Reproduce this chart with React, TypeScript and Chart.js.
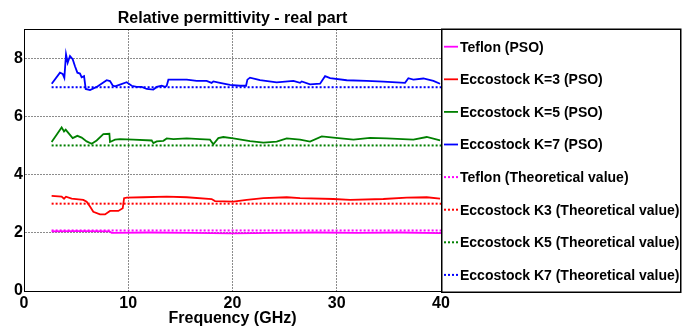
import React, { useEffect, useRef } from "react";
import { Chart, registerables } from "chart.js";

Chart.register(...registerables);

// ---- data ----
const xTicks = [0, 10, 20, 30, 40];
const yTicks = [0, 2, 4, 6, 8];

const teflonFreq = [2.65, 5, 8.2, 8.4, 12, 16, 20, 24, 28, 32, 36, 40];
const teflonVals = [2.05, 2.06, 2.05, 2.0, 2.01, 2.0, 1.98, 2.0, 2.01, 2.0, 2.01, 1.99];

const k3Freq = [2.65, 3.61, 3.84, 4.03, 4.57, 5.69, 6.01, 6.33, 6.65, 7.29, 7.77, 8.25, 9.05, 9.47, 9.6, 9.85, 11.45, 13.69, 15.61, 18.0, 18.32, 20.08, 21.36, 22.96, 25.2, 26.48, 29.68, 31.28, 34.47, 36.71, 38.63, 39.91];
const k3Vals = [3.27, 3.24, 3.17, 3.24, 3.17, 3.13, 3.07, 2.9, 2.72, 2.63, 2.63, 2.75, 2.75, 2.84, 3.19, 3.21, 3.22, 3.24, 3.22, 3.16, 3.09, 3.07, 3.13, 3.19, 3.22, 3.19, 3.16, 3.13, 3.16, 3.21, 3.22, 3.17];

const k5Freq = [2.65, 3.13, 3.61, 3.84, 4.0, 4.25, 4.67, 5.12, 5.53, 6.01, 6.49, 6.97, 7.61, 8.19, 8.25, 8.73, 9.21, 10.49, 12.25, 12.41, 12.73, 13.37, 13.69, 14.33, 15.61, 16.88, 17.84, 18.16, 18.64, 19.12, 20.08, 21.68, 22.96, 24.24, 25.2, 26.48, 27.44, 28.56, 29.68, 31.6, 33.19, 34.79, 37.35, 38.63, 39.91];
const k5Vals = [5.12, 5.37, 5.62, 5.48, 5.54, 5.43, 5.25, 5.33, 5.27, 5.14, 5.06, 5.17, 5.39, 5.4, 5.12, 5.2, 5.22, 5.2, 5.17, 5.08, 5.14, 5.16, 5.24, 5.22, 5.24, 5.22, 5.2, 5.04, 5.25, 5.29, 5.24, 5.15, 5.1, 5.13, 5.24, 5.2, 5.13, 5.31, 5.27, 5.2, 5.26, 5.24, 5.2, 5.29, 5.17];

const k7Freq = [2.66, 3.45, 3.71, 3.87, 4.03, 4.19, 4.41, 4.67, 4.89, 5.12, 5.37, 5.53, 5.76, 5.92, 6.33, 6.97, 7.93, 8.25, 8.51, 8.73, 9.21, 9.85, 10.33, 10.81, 11.29, 11.77, 12.41, 12.73, 13.21, 13.53, 13.69, 13.85, 14.33, 15.61, 16.57, 17.52, 18.0, 18.16, 18.8, 19.76, 20.72, 21.3, 21.43, 21.68, 22.64, 24.24, 25.84, 26.48, 26.64, 27.44, 28.4, 28.65, 28.88, 29.36, 30.96, 32.87, 34.47, 36.55, 36.87, 37.35, 38.31, 39.27, 39.91];
const k7Vals = [7.12, 7.5, 7.46, 7.32, 8.13, 7.84, 8.07, 7.96, 7.72, 7.5, 7.47, 7.34, 7.38, 6.94, 6.9, 7.01, 7.24, 7.21, 7.06, 7.03, 7.09, 7.17, 7.05, 7.01, 7.01, 6.94, 6.92, 7.01, 7.05, 7.01, 7.05, 7.26, 7.26, 7.26, 7.22, 7.22, 7.15, 7.2, 7.15, 7.08, 7.05, 7.05, 7.26, 7.33, 7.24, 7.17, 7.22, 7.15, 7.2, 7.1, 7.12, 7.26, 7.38, 7.31, 7.24, 7.22, 7.19, 7.15, 7.31, 7.26, 7.3, 7.22, 7.12];

const theoFreq = [2.65, 40];
const teflonTheo = [2.08, 2.08];
const k3Theo = [3, 3];
const k5Theo = [5, 5];
const k7Theo = [7, 7];

const labels = [
  "Teflon (PSO)",
  "Eccostock K=3 (PSO)",
  "Eccostock K=5 (PSO)",
  "Eccostock K=7 (PSO)",
  "Teflon (Theoretical value)",
  "Eccostock K3 (Theoretical value)",
  "Eccostock K5 (Theoretical value)",
  "Eccostock K7 (Theoretical value)",
];
const colors = ["#ff00ff", "#ff0000", "#008000", "#0000ff"];

const FONT = "'Liberation Sans', Arial, sans-serif";

const pts = (xs: number[], ys: number[]) => xs.map((x, i) => ({ x, y: ys[i] }));

export default function App() {
  const ref = useRef<HTMLCanvasElement | null>(null);

  useEffect(() => {
    if (!ref.current) return;
    const solid = [
      pts(teflonFreq, teflonVals),
      pts(k3Freq, k3Vals),
      pts(k5Freq, k5Vals),
      pts(k7Freq, k7Vals),
    ];
    const theo = [teflonTheo, k3Theo, k5Theo, k7Theo].map((v) => pts(theoFreq, v));
    const datasets: any[] = [];
    solid.forEach((d, i) =>
      datasets.push({
        label: labels[i],
        data: d,
        borderColor: colors[i],
        borderWidth: 1.8,
        pointRadius: 0,
        tension: 0,
        fill: false,
      })
    );
    theo.forEach((d, i) =>
      datasets.push({
        label: labels[i + 4],
        data: d,
        borderColor: colors[i],
        borderWidth: 2,
        borderDash: [2, 2],
        pointRadius: 0,
        tension: 0,
        fill: false,
      })
    );

    const framePlugin = {
      id: "frame",
      afterDraw(chart: any) {
        const { ctx, chartArea: a } = chart;
        ctx.save();
        // plot box
        ctx.strokeStyle = "#000";
        ctx.lineWidth = 1;
        ctx.strokeRect(a.left + 0.5, a.top + 0.5, a.right - a.left, a.bottom - a.top);
        // title
        ctx.fillStyle = "#000";
        ctx.font = `bold 16px ${FONT}`;
        ctx.textAlign = "center";
        ctx.textBaseline = "alphabetic";
        ctx.fillText("Relative permittivity - real part", (a.left + a.right) / 2, 23);
        // legend
        const lx = a.right;
        const ly = a.top;
        const lw = 239;
        const lh = a.bottom - a.top + 1;
        ctx.lineWidth = 1.5;
        ctx.strokeRect(lx + 0.75, ly + 0.25, lw, lh);
        ctx.font = `bold 14px ${FONT}`;
        ctx.textAlign = "left";
        ctx.textBaseline = "middle";
        chart.data.datasets.forEach((ds: any, i: number) => {
          const y = 46.7 + i * 32.6;
          ctx.save();
          ctx.strokeStyle = ds.borderColor;
          ctx.lineWidth = ds.borderDash ? 2 : 1.8;
          ctx.setLineDash(ds.borderDash || []);
          ctx.beginPath();
          ctx.moveTo(lx + 3, y);
          ctx.lineTo(lx + 17, y);
          ctx.stroke();
          ctx.restore();
          ctx.fillStyle = "#000";
          ctx.fillText(ds.label, lx + 19, y + 1);
        });
        ctx.restore();
      },
    };

    const gridColor = "#8c8c8c";

    const chart = new Chart(ref.current, {
      type: "line",
      data: { datasets },
      options: {
        animation: false,
        responsive: false,
        layout: { padding: { left: 0, right: 248, top: 29, bottom: 0 } },
        plugins: { legend: { display: false }, title: { display: false }, tooltip: { enabled: false } },
        scales: {
          x: {
            type: "linear",
            min: 0,
            max: 40,
            afterBuildTicks: (s: any) => {
              s.ticks = xTicks.map((v) => ({ value: v }));
            },
            afterFit: (s: any) => {
              s.height = 38;
            },
            ticks: {
              autoSkip: false,
              maxRotation: 0,
              padding: 3,
              color: "#000",
              font: { family: FONT, size: 16, weight: "bold" },
            },
            grid: { color: gridColor, lineWidth: 1, drawTicks: false },
            border: { display: true, color: "#000", width: 1, dash: [2, 1] },
            title: {
              display: true,
              text: "Frequency (GHz)",
              color: "#000",
              font: { family: FONT, size: 16, weight: "bold" },
              padding: { top: 0, bottom: 1 },
            },
          },
          y: {
            type: "linear",
            min: 0,
            max: 9,
            afterBuildTicks: (s: any) => {
              s.ticks = yTicks.map((v) => ({ value: v }));
            },
            afterFit: (s: any) => {
              s.width = 24;
            },
            ticks: {
              padding: 1,
              color: "#000",
              font: { family: FONT, size: 16, weight: "bold" },
            },
            grid: { color: gridColor, lineWidth: 1, drawTicks: false },
            border: { display: true, color: "#000", width: 1, dash: [2, 1] },
          },
        },
      },
      plugins: [framePlugin],
    } as any);
    return () => chart.destroy();
  }, []);

  return (
    <div style={{ position: "absolute", left: 0, top: 0, width: 689, height: 329, background: "#fff" }}>
      <canvas ref={ref} width={689} height={329} />
    </div>
  );
}
